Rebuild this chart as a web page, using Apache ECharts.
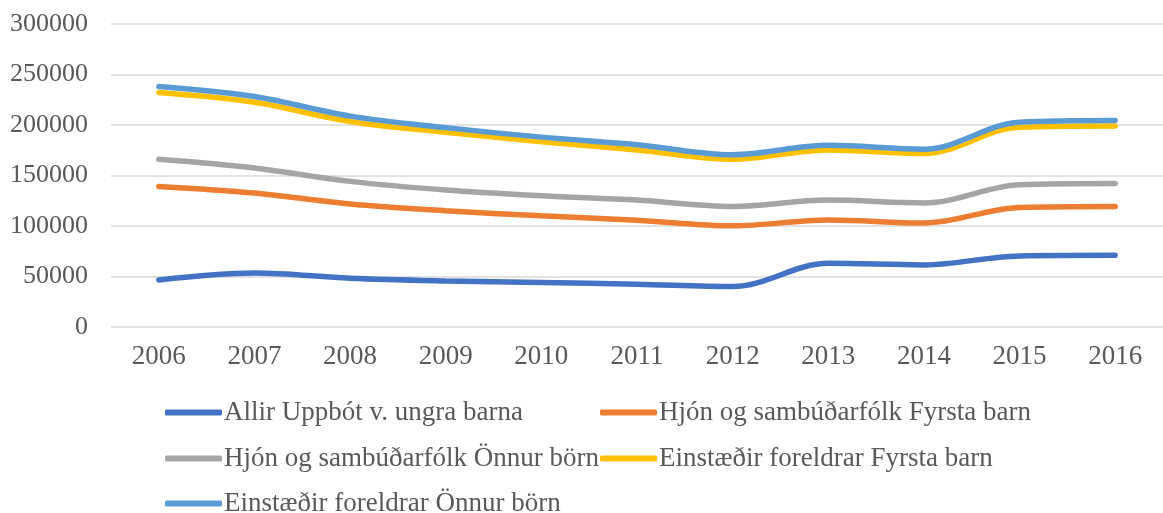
<!DOCTYPE html>
<html>
<head>
<meta charset="utf-8">
<script src="https://cdn.jsdelivr.net/npm/echarts@6/dist/echarts.min.js"></script>
<style>
  html, body { margin: 0; padding: 0; background: #fff; }
  #chart { width: 1163px; height: 513px; }
</style>
</head>
<body>
<div id="chart"></div>
<script>
// ár
const years = ['2006', '2007', '2008', '2009', '2010', '2011', '2012', '2013', '2014', '2015', '2016'];

// gildi lesin af myndinni
const allirUppbot = [46600, 53500, 48300, 45600, 44000, 42300, 40000, 63000, 61500, 70400, 71000];
const hjonFyrsta = [139200, 132600, 121700, 115100, 110100, 105800, 100200, 106000, 103000, 118400, 119400];
const hjonOnnur = [166000, 157400, 144200, 135600, 130000, 125700, 119400, 125700, 122800, 140900, 142200];
const einstFyrsta = [232200, 222500, 203400, 192800, 183500, 175300, 166000, 175300, 171800, 197800, 199100];
const einstOnnur = [238100, 228200, 208800, 197400, 188000, 180500, 170600, 179900, 176000, 202700, 204400];

const names = [
    'Allir Uppbót v. ungra barna',
    'Hjón og sambúðarfólk Fyrsta barn',
    'Hjón og sambúðarfólk Önnur börn',
    'Einstæðir foreldrar Fyrsta barn',
    'Einstæðir foreldrar Önnur börn'
];
const colors = ['#4472C4', '#ED7D31', '#A5A5A5', '#FFC000', '#5B9BD5'];
const seriesData = [allirUppbot, hjonFyrsta, hjonOnnur, einstFyrsta, einstOnnur];

const font = '"Liberation Serif", "Times New Roman", serif';

let chart = echarts.init(document.getElementById('chart'));

// one legend per item, two columns like the original
const legendPos = [[165, 399], [600, 399], [165, 445], [600, 445], [165, 490]];
const legends = names.map(function (n, i) {
    return {
        data: [n],
        left: legendPos[i][0],
        top: legendPos[i][1],
        padding: 0,
        icon: 'roundRect',
        itemWidth: 57,
        itemHeight: 6,
        textStyle: { fontFamily: font, fontSize: 27, color: '#595959', padding: [0, 0, 0, -3] }
    };
});

const option = {
    animation: false,
    color: colors,
    grid: { left: 111, top: 24, width: 1058, bottom: 186 },
    legend: legends,
    xAxis: {
        type: 'category',
        data: years,
        boundaryGap: true,
        axisLine: { show: false },
        axisTick: { show: false },
        axisLabel: { fontFamily: font, fontSize: 27, color: '#595959', margin: 16 }
    },
    yAxis: {
        type: 'value',
        min: 0,
        max: 300000,
        interval: 50000,
        axisLine: { show: false },
        axisTick: { show: false },
        axisLabel: {
            fontFamily: font, fontSize: 26, color: '#595959', margin: 23,
            formatter: function (v) { return String(v); }
        },
        splitLine: { lineStyle: { color: '#D9D9D9', width: 1.5 } }
    },
    series: seriesData.map(function (d, i) {
        return {
            name: names[i],
            type: 'line',
            data: d,
            smooth: 0.35,
            showSymbol: false,
            lineStyle: { width: 5.5, color: colors[i], cap: 'round' },
            itemStyle: { color: colors[i] }
        };
    })
};

chart.setOption(option);

window.addEventListener('resize', function () {
    chart.resize();
});
</script>
</body>
</html>
